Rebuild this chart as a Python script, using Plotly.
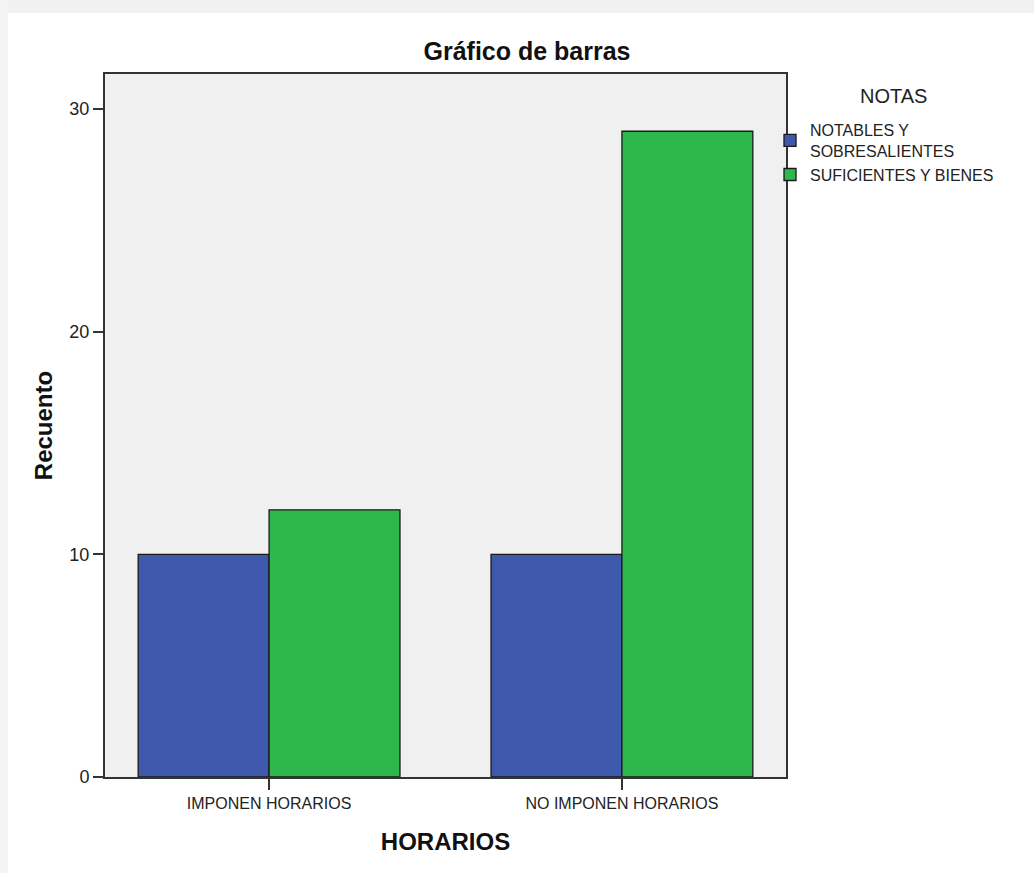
import plotly.graph_objects as go

categories = ["IMPONEN HORARIOS", "NO IMPONEN HORARIOS"]
series_names = ["NOTABLES Y<br>SOBRESALIENTES", "SUFICIENTES Y BIENES"]
notables = [10, 10]
suficientes = [12, 29]
colors = ["#3e58ac", "#2eb84b"]
y_ticks = [0, 10, 20, 30]

W, H = 1034, 873
L, R, T, B = 105, 1034 - 786, 74, 873 - 777
pw, ph = W - L - R, H - T - B

def px_x(p):
    return (p - L) / pw

def px_y(p):
    return (H - B - p) / ph

reg = "Liberation Sans, Arial, sans-serif"
bold = "Liberation Sans, Arial, sans-serif"

fig = go.Figure()
for name, vals, col in zip(series_names, [notables, suficientes], colors):
    fig.add_trace(go.Bar(
        x=categories, y=vals, name=name,
        marker=dict(color=col, line=dict(color="#1a1a1a", width=1.3)),
    ))

fig.update_layout(
    width=W, height=H,
    margin=dict(l=L, r=R, t=T, b=B),
    paper_bgcolor="white",
    plot_bgcolor="#f0f0f0",
    barmode="group", bargap=0.258, bargroupgap=0,
    font=dict(family=reg, color="#222222", size=16),
    title=dict(text="<b>Gráfico de barras</b>", x=527 / W, xanchor="center",
               y=1 - 51 / H, yanchor="middle", yref="container",
               font=dict(family=bold, size=25, color="#111111")),
    xaxis=dict(
        range=[-0.465, 1.465], showline=True, linecolor="#333333", linewidth=2,
        mirror=True, ticks="outside", ticklen=11, tickwidth=1.5, tickcolor="#333333",
        tickfont=dict(family=reg, size=16, color="#222222"),
        showgrid=False, zeroline=False,
        title=dict(text="<b>HORARIOS</b>", standoff=22,
                   font=dict(family=bold, size=24, color="#111111")),
    ),
    yaxis=dict(
        range=[0, 31.57], tickvals=y_ticks, showline=True, linecolor="#333333",
        linewidth=2, mirror=True, ticks="outside", ticklen=10, tickwidth=2,
        tickcolor="#333333", tickfont=dict(family=reg, size=18, color="#222222"),
        showgrid=False, zeroline=False,
        title=dict(text="<b>Recuento</b>", standoff=10,
                   font=dict(family=bold, size=24, color="#111111")),
    ),
    legend=dict(
        x=px_x(770), xanchor="left", y=px_y(113), yanchor="top",
        bgcolor="rgba(0,0,0,0)", itemwidth=30,
        font=dict(family=reg, size=16, color="#222222"),
        tracegroupgap=0,
    ),
    annotations=[
        dict(text="NOTAS", xref="paper", yref="paper", x=px_x(893), y=px_y(96),
             xanchor="center", yanchor="middle", showarrow=False,
             font=dict(family=reg, size=20, color="#222222")),
    ],
    shapes=[
        dict(type="rect", xref="paper", yref="paper", layer="below",
             x0=px_x(0), x1=px_x(W), y0=px_y(13), y1=px_y(0),
             fillcolor="#f1f1f1", line=dict(width=0)),
        dict(type="rect", xref="paper", yref="paper", layer="below",
             x0=px_x(0), x1=px_x(8), y0=px_y(H), y1=px_y(0),
             fillcolor="#f4f4f4", line=dict(width=0)),
    ],
)

fig.write_html(
    "out.html",
    config={"displayModeBar": False},
    post_script="document.body.style.margin='0';document.body.style.overflow='hidden';",
)
